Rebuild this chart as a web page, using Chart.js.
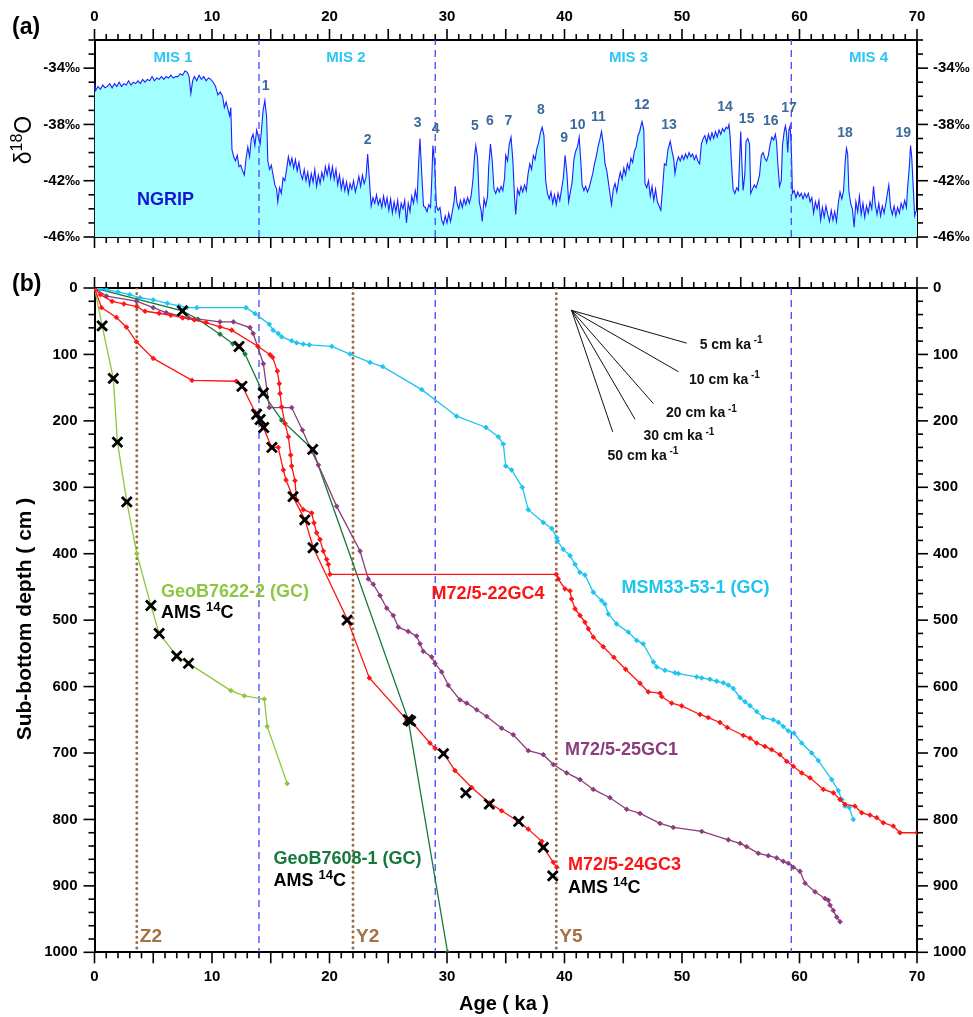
<!DOCTYPE html>
<html lang="en">
<head>
<meta charset="UTF-8">
<title>NGRIP d18O and core age-depth models</title>
<script src="https://cdn.jsdelivr.net/npm/chart.js"></script>
<style>
  body { margin: 0; background: #fff; }
  #wrap { position: relative; width: 973px; height: 1017px; }
  canvas { position: absolute; left: 0; }
  #chartA { top: 0; }
  #chartB { top: 262px; }
</style>
</head>
<body>
<div id="wrap">
  <canvas id="chartA" width="973" height="262"></canvas>
  <canvas id="chartB" width="973" height="755"></canvas>
</div>
<script>
// ---------- axes ----------
const ageTicks = [0, 10, 20, 30, 40, 50, 60, 70];
const ageMajorTicks = [0, 5, 10, 15, 20, 25, 30, 35, 40, 45, 50, 55, 60, 65, 70];
const d18OTicks = [-46, -42, -38, -34];
const depthTicks = [0, 100, 200, 300, 400, 500, 600, 700, 800, 900, 1000];

// ---------- panel (a): NGRIP d18O (ka, permil) ----------
const ngripAge = [
  0, 0.1, 0.3, 0.5, 0.7, 0.9, 1.1, 1.3, 1.5, 1.7,
  1.9, 2.1, 2.3, 2.5, 2.7, 2.9, 3.1, 3.3, 3.5, 3.7,
  3.9, 4.1, 4.3, 4.5, 4.7, 4.9, 5.1, 5.3, 5.5, 5.7,
  5.9, 6.1, 6.3, 6.5, 6.7, 6.9, 7.1, 7.3, 7.5, 7.7,
  7.9, 8.05, 8.2, 8.35, 8.5, 8.7, 8.9, 9.1, 9.3, 9.5,
  9.7, 9.9, 10.1, 10.3, 10.5, 10.7, 10.9, 11.05, 11.2, 11.35,
  11.5, 11.6, 11.7, 11.85, 12.0, 12.15, 12.3, 12.45, 12.6, 12.75,
  12.9, 13.05, 13.2, 13.35, 13.5, 13.65, 13.8, 13.95, 14.1, 14.2,
  14.35, 14.5, 14.65, 14.75, 14.9, 15.05, 15.2, 15.35, 15.5, 15.6,
  15.75, 15.9, 16.05, 16.2, 16.35, 16.5, 16.65, 16.8, 16.95, 17.1,
  17.25, 17.4, 17.55, 17.7, 17.85, 18.0, 18.15, 18.3, 18.45, 18.6,
  18.75, 18.9, 19.05, 19.2, 19.35, 19.5, 19.65, 19.8, 19.95, 20.1,
  20.25, 20.4, 20.55, 20.7, 20.85, 21.0, 21.15, 21.3, 21.45, 21.6,
  21.75, 21.9, 22.05, 22.2, 22.35, 22.5, 22.65, 22.8, 22.95, 23.1,
  23.25, 23.4, 23.55, 23.7, 23.85, 24.0, 24.15, 24.3, 24.45, 24.6,
  24.75, 24.9, 25.05, 25.2, 25.35, 25.5, 25.65, 25.8, 25.95, 26.1,
  26.25, 26.4, 26.55, 26.7, 26.85, 27.0, 27.15, 27.3, 27.45, 27.6,
  27.7, 27.85, 28.0, 28.15, 28.3, 28.45, 28.6, 28.7, 28.8, 28.95,
  29.1, 29.25, 29.4, 29.55, 29.7, 29.85, 30.0, 30.15, 30.3, 30.45,
  30.6, 30.7, 30.85, 31.0, 31.15, 31.3, 31.45, 31.6, 31.75, 31.9,
  32.05, 32.2, 32.35, 32.45, 32.6, 32.75, 32.9, 33.0, 33.15, 33.3,
  33.45, 33.55, 33.7, 33.85, 34.0, 34.15, 34.3, 34.45, 34.6, 34.75,
  34.9, 35.0, 35.15, 35.3, 35.45, 35.6, 35.75, 35.85, 36.0, 36.15,
  36.3, 36.45, 36.6, 36.75, 36.9, 37.05, 37.2, 37.35, 37.5, 37.65,
  37.8, 37.95, 38.1, 38.25, 38.4, 38.55, 38.7, 38.85, 39.0, 39.15,
  39.3, 39.45, 39.6, 39.75, 39.9, 40.05, 40.2, 40.35, 40.5, 40.65,
  40.8, 40.95, 41.1, 41.25, 41.4, 41.5, 41.65, 41.8, 41.95, 42.1,
  42.25, 42.4, 42.55, 42.7, 42.85, 43.0, 43.15, 43.3, 43.45, 43.6,
  43.75, 43.9, 44.0, 44.15, 44.3, 44.45, 44.6, 44.75, 44.9, 45.05,
  45.2, 45.35, 45.5, 45.65, 45.8, 45.95, 46.1, 46.25, 46.4, 46.5,
  46.6, 46.75, 46.85, 47.0, 47.15, 47.3, 47.45, 47.6, 47.75, 47.9,
  48.05, 48.2, 48.35, 48.5, 48.65, 48.8, 49.0, 49.15, 49.3, 49.4,
  49.55, 49.7, 49.85, 50.0, 50.15, 50.3, 50.45, 50.6, 50.75, 50.9,
  51.05, 51.2, 51.35, 51.5, 51.65, 51.8, 51.95, 52.1, 52.25, 52.4,
  52.55, 52.7, 52.85, 53.0, 53.15, 53.3, 53.45, 53.6, 53.75, 53.9,
  54.0, 54.1, 54.2, 54.35, 54.5, 54.65, 54.8, 54.9, 55.0, 55.1,
  55.2, 55.35, 55.45, 55.6, 55.75, 55.85, 56.0, 56.15, 56.3, 56.45,
  56.6, 56.75, 56.9, 57.05, 57.2, 57.35, 57.5, 57.65, 57.8, 57.95,
  58.05, 58.15, 58.3, 58.45, 58.55, 58.7, 58.8, 58.9, 59.0, 59.1,
  59.2, 59.3, 59.4, 59.55, 59.7, 59.85, 60.0, 60.15, 60.3, 60.45,
  60.6, 60.75, 60.9, 61.05, 61.2, 61.35, 61.5, 61.65, 61.8, 61.95,
  62.1, 62.25, 62.4, 62.55, 62.7, 62.85, 63.0, 63.15, 63.3, 63.45,
  63.6, 63.75, 63.9, 64.0, 64.1, 64.2, 64.35, 64.5, 64.65, 64.8,
  64.95, 65.1, 65.25, 65.4, 65.55, 65.7, 65.85, 66.0, 66.15, 66.3,
  66.45, 66.6, 66.75, 66.9, 67.05, 67.2, 67.35, 67.5, 67.6, 67.75,
  67.9, 68.05, 68.2, 68.35, 68.5, 68.65, 68.8, 68.95, 69.1, 69.2,
  69.35, 69.45, 69.55, 69.7, 69.8, 69.9, 70.0
];
const ngripD18O = [
  -35.0, -35.6, -35.3, -35.5, -35.2, -35.4, -35.3, -35.1, -35.4, -35.1,
  -35.3, -35.0, -35.3, -35.1, -35.2, -34.9, -35.2, -35.0, -35.1, -34.9,
  -35.1, -34.8, -35.0, -34.8, -34.9, -34.6, -34.9, -34.7, -34.8, -34.6,
  -34.8, -34.6, -34.7, -34.5, -34.7, -34.6, -34.6, -34.4, -34.5, -34.2,
  -34.3, -34.6, -35.8, -34.9, -34.6, -34.9, -34.5, -34.8, -34.6, -34.9,
  -34.7, -34.8, -35.0, -35.3, -35.9, -35.7, -36.0, -36.8, -36.4, -36.9,
  -37.4, -36.8, -39.8, -40.3, -40.6, -40.2, -41.0, -40.9, -41.3, -41.6,
  -40.4, -39.6, -40.3, -39.0, -38.7, -39.5, -38.4, -38.9, -39.4, -38.5,
  -37.0, -36.3, -37.5, -40.6, -41.2, -40.9, -41.6, -42.3, -42.6, -43.5,
  -42.5, -42.9, -41.8, -42.0, -41.2, -40.3, -40.9, -40.4, -41.1, -40.5,
  -41.3, -40.7, -41.5, -41.9, -41.2, -42.0, -41.4, -42.3, -41.5, -42.1,
  -41.2, -42.4, -41.6, -42.2, -41.4, -41.9, -41.0, -41.6, -40.9, -41.8,
  -41.0, -41.9, -41.2, -42.3, -41.6, -42.6, -41.9, -42.7, -42.1, -42.9,
  -42.2, -42.6, -42.0, -42.8, -42.3, -41.7, -42.4, -41.6, -42.2, -41.8,
  -40.1, -42.0, -43.8, -43.2, -43.6, -43.0, -43.7, -43.3, -43.9, -43.1,
  -43.8, -43.2, -44.1, -43.3, -44.3, -43.5, -44.2, -43.4, -44.5, -43.6,
  -44.0, -43.4, -45.0, -43.6, -44.2, -43.1, -43.6, -42.7, -43.4, -40.5,
  -39.0, -41.5, -43.8, -43.9, -44.2, -43.7, -43.9, -42.0, -39.5, -40.8,
  -43.8, -44.1, -43.9, -44.8, -45.1, -44.5, -45.0, -44.3, -44.9, -44.2,
  -43.5, -42.4, -43.6, -44.0, -43.4, -43.9, -43.3, -43.7, -43.2, -43.6,
  -43.1, -42.0, -40.2, -39.5, -40.4, -43.5, -44.1, -44.9, -43.3, -43.8,
  -43.1, -41.0, -39.4, -40.6, -42.6, -42.9, -42.5, -42.8, -42.4, -42.7,
  -41.8, -40.2, -40.6, -39.4, -38.9, -40.5, -43.2, -44.4, -42.6, -43.0,
  -42.4, -42.8, -42.3, -42.7, -41.5, -40.8, -41.2, -40.2, -40.5, -39.7,
  -39.3, -38.6, -38.2, -38.8, -42.0, -42.9, -43.3, -42.8, -43.6, -43.0,
  -43.7, -42.9, -43.4, -42.6, -41.8, -40.2, -41.4, -43.5, -42.8, -42.1,
  -40.5, -39.9, -39.6, -38.9, -40.8, -42.3, -42.7, -42.4, -42.8, -42.5,
  -42.0, -41.5, -40.8, -40.3, -39.6, -39.1, -38.5, -39.4, -40.8, -41.3,
  -42.2, -43.1, -43.7, -42.6, -42.2, -42.8, -42.0, -41.4, -41.9, -41.1,
  -41.6, -40.8, -41.2, -40.4, -40.7, -39.9, -39.6, -38.8, -38.5, -38.1,
  -37.8, -38.4, -42.2, -42.5, -42.0, -43.1, -42.4, -43.4, -42.6, -43.5,
  -43.8, -44.1, -42.5, -40.8, -40.9, -39.8, -39.2, -39.9, -40.5, -41.5,
  -40.7, -40.3, -40.6, -40.2, -40.5, -40.1, -40.4, -40.0, -40.3, -40.1,
  -40.5, -40.2, -40.6, -40.8, -39.4, -39.0, -38.8, -39.3, -38.7, -39.1,
  -38.6, -39.0, -38.5, -38.9, -38.4, -38.7, -38.3, -38.5, -38.2, -38.3,
  -38.0, -38.9, -40.6, -42.6, -42.9, -42.5, -42.7, -40.5, -38.5, -40.8,
  -42.7, -41.5, -39.2, -39.0, -39.4, -42.9, -42.6, -42.3, -42.5, -42.1,
  -41.6, -40.2, -40.0, -40.4, -40.6, -40.2, -39.4, -38.9, -39.1, -38.7,
  -39.3, -40.7, -42.4, -42.0, -39.5, -38.5, -38.1, -38.6, -40.0, -38.4,
  -38.1, -39.5, -42.9, -42.7, -43.2, -42.8, -43.1, -42.9, -43.3, -42.9,
  -43.2, -42.9, -43.5, -43.2, -44.3, -43.5, -44.0, -43.4, -44.8, -43.9,
  -44.6, -43.8, -44.4, -44.9, -44.1, -44.8, -44.2, -44.9, -43.6, -42.8,
  -43.3, -42.7, -40.5, -39.7, -40.1, -42.7, -43.6, -44.0, -45.3, -43.5,
  -44.2, -43.1, -44.4, -43.6, -44.6, -43.8, -44.3, -43.5, -44.0, -42.4,
  -43.7, -44.4, -43.6, -44.5, -43.8, -44.3, -43.6, -42.8, -42.3, -43.9,
  -44.4, -43.8, -44.5, -43.9, -44.3, -43.6, -44.0, -43.4, -43.9, -42.5,
  -41.0, -39.5, -40.3, -42.8, -44.5, -44.2, -44.1
];

// marine isotope stage boundaries and labels (ka)
const misBoundaries = [14, 29, 59.3];
const misNames = ['MIS 1', 'MIS 2', 'MIS 3', 'MIS 4'];
const misCentres = [6.68, 21.4, 45.45, 65.87];
// Dansgaard-Oeschger event numbers (label age, label level)
const doNumbers = ['1', '2', '3', '4', '5', '6', '7', '8', '9', '10', '11', '12', '13', '14', '15', '16', '17', '18', '19'];
const doAges = [14.57, 23.25, 27.5, 29.04, 32.38, 33.66, 35.22, 38.0, 39.98, 41.12, 42.88, 46.57, 48.89, 53.66, 55.5, 57.55, 59.11, 63.87, 68.83];
const doLevels = [-35.29, -39.1, -37.92, -38.37, -38.15, -37.8, -37.8, -37.01, -38.95, -38.03, -37.46, -36.6, -38.03, -36.78, -37.65, -37.74, -36.83, -38.65, -38.65];

// ---------- panel (b): age-depth models (ka, cm) ----------
const g7622Age   = [0, 0.65, 1.6, 1.95, 2.75, 3.6, 4.8, 5.5, 7.0, 8.0, 11.6, 12.75, 14.45, 14.7, 16.4];
const g7622Depth = [0, 57, 136, 232, 322, 400, 478, 520, 554, 565, 606, 614, 619, 660, 746];

const g7608Age   = [0, 7.48, 8.8, 10.68, 11.78, 12.3, 12.81, 14.37, 15.93, 18.57, 26.7, 30.05];
const g7608Depth = [0, 34.5, 47, 69.5, 84, 88, 99.4, 159, 199, 243, 650, 1000];

const gc4Age = [0, 0.5, 1.5, 2.5, 3.6, 4.3, 5.5, 6.5, 7.5, 8.5, 9.5, 10.68, 11.68, 13.9, 14.94, 15.16, 15.56, 15.73, 15.79, 15.93,
  16.21, 16.5, 16.7, 16.78, 17.06, 17.2, 17.77, 18.49, 18.68, 18.91, 19.19, 19.47, 19.76, 19.9, 20.04, 39.3, 39.47, 40.04, 40.47, 40.6,
  40.9, 41.32, 41.74, 42.03, 42.45, 43.3, 44.2, 45.2, 46.43, 47.13, 48.13, 48.27, 49.12, 49.97, 51.53, 52.24, 53.23, 53.86, 55.22, 55.79,
  56.36, 57.06, 57.63, 58.34, 58.91, 59.47, 60.19, 60.9, 62.03, 62.88, 63.45, 63.87, 64.72, 65.3, 66.0, 66.57, 67.13, 67.98, 68.55, 70];
const gc4Depth = [0, 10, 20, 24, 28, 35, 38, 41, 45, 48, 52, 58.6, 63.5, 87.7, 100.4, 104.4, 125, 144, 159, 179,
  204, 224, 251.5, 268, 290, 318.7, 333.7, 338.7, 353.6, 368.6, 378.6, 396, 408.5, 416, 431, 431, 438, 453, 456, 468,
  483, 493, 503, 513, 525.6, 540, 556, 574, 595, 608, 610, 615, 625, 629, 642, 646.7, 654, 661.6, 673.6, 677.6,
  685, 690, 695, 702.5, 712.5, 720, 730, 737.4, 754.8, 760, 770, 777.3, 780, 790, 793.4, 797.4, 805, 810, 820, 820];

const gc3Age   = [0, 0.6, 1.87, 2.72, 3.57, 5.0, 8.3, 12.07, 12.55, 13.66, 13.8, 14.09, 14.37, 15.08, 15.64, 16.07, 16.3, 16.87, 17.91,
  18.62, 21.52, 23.39, 26.57, 26.91, 28.55, 28.98, 29.74, 30.68, 32.1, 33.6, 34.65, 36.07, 36.92, 38.06, 38.2, 39.05, 39.35];
const gc3Depth = [0, 29.6, 44.3, 59, 81, 106, 139, 140.4, 146.8, 186.6, 190, 198, 210, 240, 240, 274, 289, 313.7, 348.7,
  391, 499, 587, 650, 651.6, 685, 692.6, 701, 726.4, 752, 775, 787, 803, 814.6, 833, 842, 864.5, 872];

const gc1Age = [0, 1.02, 3.57, 5.0, 6.1, 8.0, 10.68, 11.82, 13.23, 13.51, 14.37, 14.88, 16.78, 17.7, 18.49, 19.05, 20.61, 22.6, 23.3, 23.73,
  24.3, 24.87, 25.43, 25.86, 26.7, 27.42, 27.7, 27.98, 28.7, 28.98, 29.55, 30.11, 31.1, 31.68, 32.53, 33.38, 34.65, 35.64, 36.92, 38.2,
  39.05, 40.19, 41.32, 42.45, 43.87, 45.29, 46.43, 48.13, 49.26, 51.68, 53.94, 54.94, 55.5, 56.5, 57.35, 58.06, 58.62, 59.05, 59.47, 60.04,
  60.47, 61.32, 62.17, 62.45, 62.6, 62.88, 63.17, 63.45];
const gc1Depth = [0, 12.3, 19.7, 29.6, 37, 45, 51, 51, 59.5, 68.5, 114, 180, 180, 214, 246, 266.5, 328.7, 396, 438, 446,
  463, 482, 493, 510.6, 517, 524, 535.6, 547, 555.5, 565, 578, 598, 620, 625, 635, 645, 662.7, 672.5, 696.5, 702.5,
  717.4, 730, 740, 754.8, 767.3, 784.7, 791, 806, 812, 818, 830.6, 836, 841, 851, 854.6, 858, 863, 866, 872, 878,
  896, 909, 919, 921.6, 929, 937, 947, 954];

const msmAge = [0, 0.5, 1.02, 2.0, 3.0, 3.87, 5.0, 6.2, 7.2, 7.85, 8.7, 12.9, 13.66, 14.88, 15.2, 15.64, 15.93, 16.78, 17.2, 17.77,
  18.28, 20.19, 21.74, 23.45, 24.53, 27.85, 30.82, 33.32, 34.37, 34.79, 35.0, 35.5, 36.41, 36.92, 38.2, 38.91, 39.34, 39.39, 39.9, 40.47,
  40.9, 41.3, 41.74, 42.45, 43.16, 43.44, 43.73, 44.44, 45.43, 46.14, 46.7, 47.56, 47.85, 48.55, 49.4, 49.69, 51.25, 51.68, 52.38, 52.95,
  53.52, 53.94, 54.37, 54.94, 55.36, 55.79, 56.36, 56.92, 57.77, 58.2, 58.62, 59.05, 59.53, 60.19, 61.04, 61.6, 62.74, 63.3, 63.6, 63.87,
  64.24, 64.58];
const msmDepth = [0, 1, 2.5, 6, 10, 14.7, 18, 23, 27, 29.6, 29.6, 29.6, 38.6, 54.6, 63.5, 68.5, 73.5, 79.5, 82.5, 84.5,
  85.5, 88, 99.4, 112, 118.4, 153, 193, 210, 224, 235, 268, 274, 300, 333.7, 353, 362, 376, 381, 393.5, 403,
  416, 428, 432, 458, 470.7, 475.8, 490.7, 505.7, 518, 530.5, 535.6, 563, 570.4, 575.4, 579.4, 580.4, 585.4, 587, 589, 592,
  594.4, 597.8, 602.9, 616.8, 622.8, 628.8, 637.7, 646.7, 650, 653.7, 660, 666.6, 670, 685, 700, 711.4, 740, 756.4, 770, 780,
  782, 800];

// AMS 14C dated levels
const amsAge   = [0.65, 1.6, 1.95, 2.75, 4.8, 5.5, 7.0, 8.0,
  7.48, 12.3, 14.37, 18.57, 26.7,
  12.55, 13.8, 14.1, 14.4, 15.1, 16.9, 17.9, 18.6, 21.5, 26.9, 29.7, 31.6, 33.6, 36.1, 38.2, 39.0];
const amsDepth = [57, 136, 232, 322, 478, 520, 554, 565,
  34.5, 88, 158, 243, 650,
  148, 190, 198, 210, 240, 314, 349, 391, 500, 652, 701, 760, 777, 803, 842, 885];

// tephra layers
const tephraAges = [3.6, 22, 39.3];
const tephraNames = ['Z2', 'Y2', 'Y5'];

// sedimentation-rate fan
const sedRates = [5, 10, 20, 30, 50];
const sedOrigin = [40.6, 33.6];
const sedEndAge = [50.4, 49.7, 47.56, 46.0, 44.1];
const sedEndDepth = [83, 126, 174, 197.6, 216.5];

// ---------- helpers ----------
const FONT = '"Liberation Sans", Arial, Helvetica, sans-serif';
const xy = (xs, ys) => xs.map((x, i) => ({ x: x, y: ys[i] }));

function axis(position, min, max, tickList, size, lab) {
  return {
    type: 'linear', position: position, min: min, max: max, reverse: !!lab.reverse,
    afterBuildTicks: s => { s.ticks = tickList.map(v => ({ value: v })); },
    afterFit: s => { if (s.isHorizontal()) s.height = size; else s.width = size; },
    grid: { display: false, drawTicks: false },
    border: { display: true, color: '#000', width: 2 },
    ticks: {
      display: !!lab.show, padding: lab.padding || 0, color: '#000', autoSkip: false, maxRotation: 0,
      font: { family: FONT, size: 15, weight: 'bold' },
      callback: lab.fmt || (v => v)
    }
  };
}

function tickMarks(specs) {
  return {
    id: 'tickMarks',
    afterDraw(chart) {
      const ctx = chart.ctx, a = chart.chartArea;
      ctx.save();
      ctx.strokeStyle = '#000';
      ctx.lineWidth = 1.6;
      specs.forEach(sp => {
        const sc = chart.scales[sp.scale];
        const n = Math.round((sc.max - sc.min) / sp.step);
        for (let i = 0; i <= n; i++) {
          const v = sc.min + i * sp.step;
          const len = sp.majors.some(m => Math.abs(m - v) < 1e-6) ? 11 : 6;
          const p = sc.getPixelForValue(v);
          ctx.beginPath();
          if (sp.side === 'top') { ctx.moveTo(p, a.top); ctx.lineTo(p, a.top - len); }
          if (sp.side === 'bottom') { ctx.moveTo(p, a.bottom); ctx.lineTo(p, a.bottom + len); }
          if (sp.side === 'left') { ctx.moveTo(a.left, p); ctx.lineTo(a.left - len, p); }
          if (sp.side === 'right') { ctx.moveTo(a.right, p); ctx.lineTo(a.right + len, p); }
          ctx.stroke();
        }
      });
      ctx.restore();
    }
  };
}

// parts: [[text, isSuperscript], ...]
function richText(ctx, parts, x, y, o) {
  const size = o.size, weight = o.weight || 'bold';
  const supSize = Math.round(size * 0.7);
  const f = sup => weight + ' ' + (sup ? supSize : size) + 'px ' + FONT;
  let width = 0;
  parts.forEach(p => { ctx.font = f(p[1]); width += ctx.measureText(p[0]).width; });
  let cx = o.align === 'center' ? x - width / 2 : x;
  ctx.fillStyle = o.color || '#000';
  ctx.textAlign = 'left';
  ctx.textBaseline = 'middle';
  parts.forEach(p => {
    ctx.font = f(p[1]);
    ctx.fillText(p[0], cx, p[1] ? y - size * 0.33 : y);
    cx += ctx.measureText(p[0]).width;
  });
}

function rotatedText(ctx, parts, x, y, o) {
  ctx.save();
  ctx.translate(x, y);
  ctx.rotate(-Math.PI / 2);
  richText(ctx, parts, 0, 0, Object.assign({ align: 'center' }, o));
  ctx.restore();
}

const baseOptions = {
  responsive: false, animation: false, devicePixelRatio: 1, events: [],
  layout: { padding: 0 },
  plugins: { legend: { display: false }, tooltip: { enabled: false } },
  elements: { line: { tension: 0 } }
};

function vline(x, y0, y1, color, width, dash, cap) {
  return {
    data: [{ x: x, y: y0 }, { x: x, y: y1 }], borderColor: color, borderWidth: width,
    borderDash: dash, borderCapStyle: cap || 'butt', pointRadius: 0, fill: false
  };
}

const permil = v => v + '\u2030';

// ---------- chart (a) ----------
new Chart(document.getElementById('chartA'), {
  type: 'line',
  data: {
    datasets: misBoundaries.map(b => vline(b, -46, -32, '#4646ff', 1.3, [7, 5])).concat([{
      data: xy(ngripAge, ngripD18O),
      borderColor: '#1f1fff', borderWidth: 1.1, backgroundColor: '#a2ffff',
      fill: 'start', pointRadius: 0
    }])
  },
  options: Object.assign({}, baseOptions, {
    scales: {
      x: axis('bottom', 0, 70, ageTicks, 17, { show: false }),
      xt: axis('top', 0, 70, ageTicks, 40, { show: true, padding: 14 }),
      y: axis('left', -46, -32, d18OTicks, 94.5, { show: true, padding: 14.5, fmt: permil }),
      yr: axis('right', -46, -32, d18OTicks, 56, { show: true, padding: 16, fmt: permil })
    }
  }),
  plugins: [
    tickMarks([
      { scale: 'xt', side: 'top', step: 1, majors: ageMajorTicks },
      { scale: 'x', side: 'bottom', step: 1, majors: ageMajorTicks },
      { scale: 'y', side: 'left', step: 1, majors: d18OTicks },
      { scale: 'yr', side: 'right', step: 1, majors: d18OTicks }
    ]),
    {
      id: 'textA',
      afterDraw(chart) {
        const ctx = chart.ctx, sx = chart.scales.x, sy = chart.scales.y;
        ctx.save();
        richText(ctx, [['(a)', 0]], 12, 28, { size: 23 });
        rotatedText(ctx, [['\u03b4', 0], ['18', 1], ['O', 0]], 25, 140, { size: 23, weight: 'normal' });
        misNames.forEach((m, i) => richText(ctx, [[m, 0]], sx.getPixelForValue(misCentres[i]), sy.getPixelForValue(-33.3),
          { size: 15, color: '#2ec5f4', align: 'center' }));
        doNumbers.forEach((t, i) => richText(ctx, [[t, 0]], sx.getPixelForValue(doAges[i]), sy.getPixelForValue(doLevels[i]),
          { size: 14, color: '#3c6a9c', align: 'center' }));
        richText(ctx, [['NGRIP', 0]], sx.getPixelForValue(3.62), sy.getPixelForValue(-43.4), { size: 18, color: '#1515d6' });
        ctx.restore();
      }
    }
  ]
});

// ---------- chart (b) ----------
const RED = '#ff1414', CYAN = '#1ec4f0', PURPLE = '#8b3c7d', DKGREEN = '#16783a', LTGREEN = '#8dc63f', BROWN = '#9c6b3f';

function core(ages, depths, color) {
  return {
    data: xy(ages, depths), borderColor: color, borderWidth: 1.3, fill: false,
    pointStyle: 'rectRot', pointRadius: 2.4, pointBackgroundColor: color, pointBorderColor: color, pointBorderWidth: 0.8
  };
}

const datasetsB = [
  {
    data: xy(amsAge, amsDepth), showLine: false, pointStyle: 'crossRot', pointRadius: 7,
    pointBorderColor: '#000', pointBorderWidth: 2.8
  },
  core(gc4Age, gc4Depth, RED),
  core(gc3Age, gc3Depth, RED),
  core(msmAge, msmDepth, CYAN),
  core(gc1Age, gc1Depth, PURPLE),
  core(g7608Age, g7608Depth, DKGREEN),
  core(g7622Age, g7622Depth, LTGREEN)
]
  .concat(sedRates.map((r, i) => ({
    data: [{ x: sedOrigin[0], y: sedOrigin[1] }, { x: sedEndAge[i], y: sedEndDepth[i] }],
    borderColor: '#111', borderWidth: 1, pointRadius: 0, fill: false
  })))
  .concat(misBoundaries.map(b => vline(b, 0, 1000, '#4646ff', 1.3, [7, 5])))
  .concat(tephraAges.map(t => vline(t, 0, 1000, BROWN, 3, [0.01, 5.4], 'round')));

const ams = [['AMS ', 0], ['14', 1], ['C', 0]];
const coreLabels = [
  { parts: [['GeoB7622-2 (GC)', 0]], age: 5.66, depth: 458, color: LTGREEN },
  { parts: ams, age: 5.66, depth: 490, color: '#000' },
  { parts: [['M72/5-22GC4', 0]], age: 28.68, depth: 461, color: RED },
  { parts: [['MSM33-53-1 (GC)', 0]], age: 44.85, depth: 452, color: CYAN },
  { parts: [['M72/5-25GC1', 0]], age: 40.04, depth: 696, color: PURPLE },
  { parts: [['GeoB7608-1 (GC)', 0]], age: 15.23, depth: 859, color: DKGREEN },
  { parts: ams, age: 15.23, depth: 893, color: '#000' },
  { parts: [['M72/5-24GC3', 0]], age: 40.3, depth: 868, color: RED },
  { parts: ams, age: 40.3, depth: 904, color: '#000' }
];
const sedLabelAge = [51.5, 50.6, 48.64, 46.72, 43.66];
const sedLabelDepth = [86, 138.3, 189.1, 223.5, 253.4];

new Chart(document.getElementById('chartB'), {
  type: 'line',
  data: { datasets: datasetsB },
  options: Object.assign({}, baseOptions, {
    scales: {
      x: axis('bottom', 0, 70, ageTicks, 64.7, { show: true, padding: 16 }),
      xt: axis('top', 0, 70, ageTicks, 21.5, { show: false }),
      y: axis('left', 0, 1000, depthTicks, 94.5, { show: true, padding: 17, reverse: true }),
      yr: axis('right', 0, 1000, depthTicks, 56, { show: true, padding: 16, reverse: true })
    }
  }),
  plugins: [
    tickMarks([
      { scale: 'xt', side: 'top', step: 1, majors: ageMajorTicks },
      { scale: 'x', side: 'bottom', step: 1, majors: ageMajorTicks },
      { scale: 'y', side: 'left', step: 20, majors: depthTicks },
      { scale: 'yr', side: 'right', step: 20, majors: depthTicks }
    ]),
    {
      id: 'textB',
      afterDraw(chart) {
        const ctx = chart.ctx, sx = chart.scales.x, sy = chart.scales.y;
        ctx.save();
        richText(ctx, [['(b)', 0]], 12, 23, { size: 23 });
        rotatedText(ctx, [['Sub-bottom depth ( cm )', 0]], 25, 357, { size: 21 });
        richText(ctx, [['Age ( ka )', 0]], 504, 742, { size: 20, align: 'center' });
        coreLabels.forEach(l => richText(ctx, l.parts, sx.getPixelForValue(l.age), sy.getPixelForValue(l.depth),
          { size: 18, color: l.color }));
        sedRates.forEach((r, i) => richText(ctx, [[r + ' cm ka', 0], [' -1', 1]],
          sx.getPixelForValue(sedLabelAge[i]), sy.getPixelForValue(sedLabelDepth[i]), { size: 14, color: '#111' }));
        tephraNames.forEach((t, i) => richText(ctx, [[t, 0]], sx.getPixelForValue(tephraAges[i]) + 3,
          sy.getPixelForValue(977), { size: 19, color: '#a47242' }));
        ctx.restore();
      }
    }
  ]
});
</script>
</body>
</html>
